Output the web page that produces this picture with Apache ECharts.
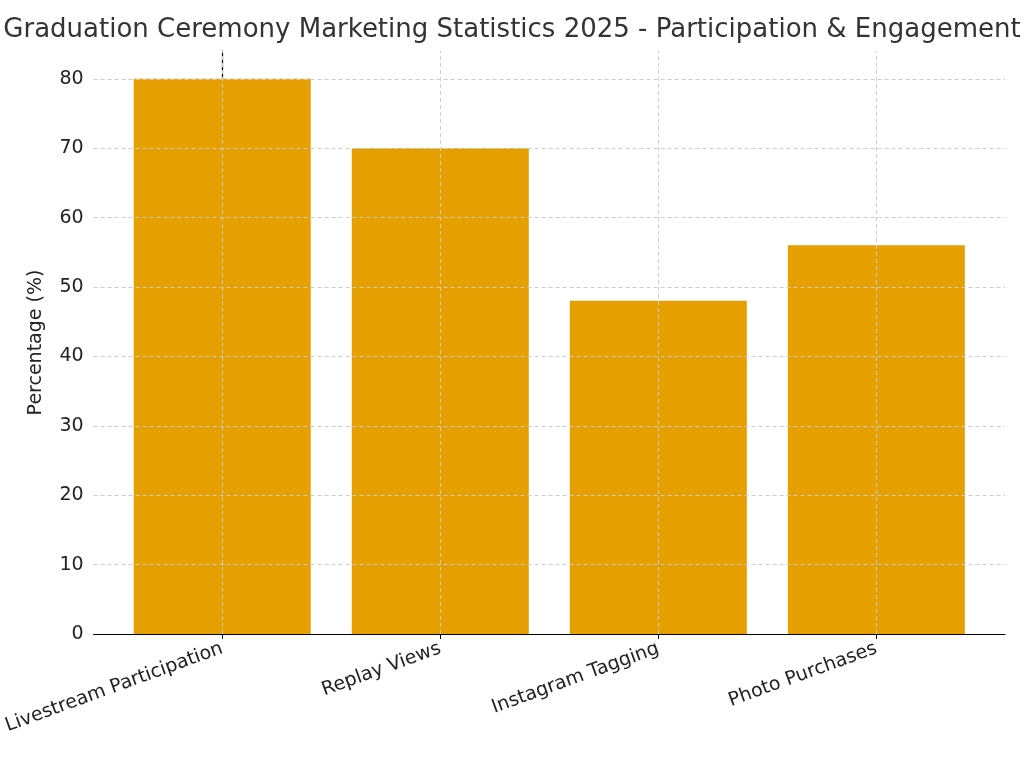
<!DOCTYPE html>
<html><head><meta charset="utf-8">
<script src="https://cdn.jsdelivr.net/npm/echarts@6/dist/echarts.min.js"></script>
<style>html,body{margin:0;padding:0;background:#fff}#c{width:1024px;height:768px}</style>
</head><body><div id="c"></div>
<script>
const categories = ["Livestream Participation", "Replay Views", "Instagram Tagging", "Photo Purchases"];
const values = [80, 70, 48, 56];
const yTicks = [0, 10, 20, 30, 40, 50, 60, 70, 80];

const chart = echarts.init(document.getElementById('c'));
const font = 'DejaVu Sans';
chart.setOption({
  animation: false,
  title: {text: 'Graduation Ceremony Marketing Statistics 2025 - Participation & Engagement', left: 'center', top: 12,
    textStyle: {fontFamily: font, fontSize: 26, fontWeight: 'normal', color: '#333'}},
  grid: {left: 81, right: 19, top: 51, bottom: 134, containLabel: false},
  xAxis: {
    type: 'value', min: -0.59, max: 3.59,
    axisLine: {lineStyle: {color: '#000', width: 1.2}},
    axisTick: {show: true, customValues: [0,1,2,3], length: 5, lineStyle: {color: '#000'}},
    axisLabel: {customValues: [0,1,2,3], rotate: 20, margin: 14, fontFamily: font, fontSize: 19, color: '#222',
      formatter: v => categories[Math.round(v)] || ''},
    splitLine: {show: false}
  },
  yAxis: {
    type: 'value', min: 0, max: 84, interval: 10,
    name: 'Percentage (%)', nameLocation: 'middle', nameGap: 48,
    nameTextStyle: {fontFamily: font, fontSize: 19, color: '#222'},
    axisLine: {show: true, lineStyle: {color: '#000', width: 1.2}},
    axisTick: {show: true, customValues: yTicks, length: 5, lineStyle: {color: '#000'}},
    axisLabel: {customValues: yTicks, fontFamily: font, fontSize: 19, color: '#222', margin: 10},
    splitLine: {show: false}
  },
  series: [{
    type: 'bar', barWidth: 177,
    data: values.map((v, i) => [i, v]),
    itemStyle: {color: '#e69f00'},
    z: 2,
    markLine: {
      silent: true, symbol: 'none', label: {show: false}, z: 3,
      lineStyle: {color: '#ccc', type: [4, 3], width: 1},
      data: [
        ...yTicks.slice(1).map(t => ({yAxis: t})),
        ...categories.map((c, i) => ({xAxis: i}))
      ]
    }
  }]
});
</script></body></html>
